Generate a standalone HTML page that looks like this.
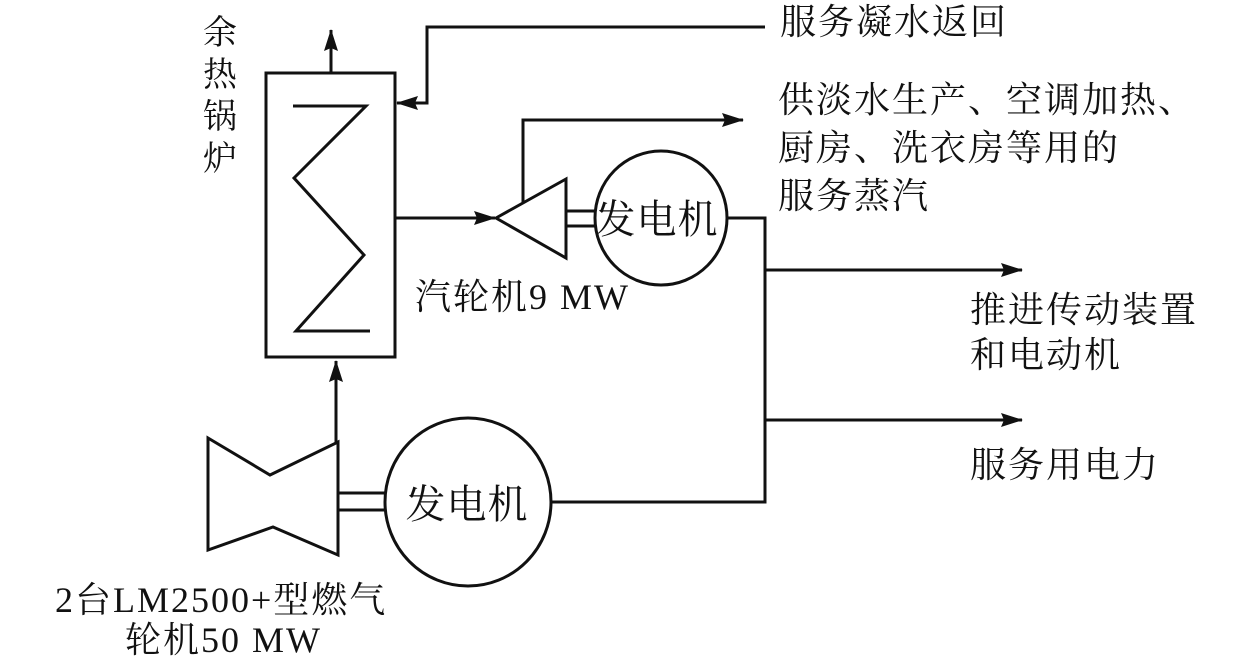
<!DOCTYPE html>
<html><head><meta charset="utf-8"><style>
html,body{margin:0;padding:0;background:#fff;}
svg{display:block}
text{font-family:"Liberation Serif","Noto Serif CJK SC","Noto Sans CJK SC",serif;font-size:36px;letter-spacing:2px;fill:#111}
</style></head><body>
<svg width="1260" height="663" viewBox="0 0 1260 663" xmlns="http://www.w3.org/2000/svg">
<defs>
<marker id="b" markerWidth="22" markerHeight="14" refX="21" refY="7" orient="auto" markerUnits="userSpaceOnUse" viewBox="0 0 22 14">
<path d="M0,0 L22,7 L0,14 L3,7 Z" fill="#111"/></marker>
</defs>
<g stroke="#111" stroke-width="3" fill="none">
<rect x="266" y="73" width="129" height="284"/>
<polyline points="293,106 366,106 294,178 364,255 296,331 370,331"/>
<line x1="331" y1="73" x2="331" y2="30" marker-end="url(#b)"/>
<polyline points="765,27 427,27 427,103 397,103" marker-end="url(#b)"/>
<line x1="395" y1="218" x2="495" y2="218" marker-end="url(#b)"/>
<polygon points="496,218 566,179 566,258"/>
<polyline points="523,203 523,120 743,120" marker-end="url(#b)"/>
<line x1="566" y1="211" x2="595" y2="211"/>
<line x1="566" y1="226" x2="595" y2="226"/>
<ellipse cx="661" cy="218" rx="66" ry="67"/>
<polyline points="727,218 765,218 765,502 551,502"/>
<line x1="765" y1="270" x2="1022" y2="270" marker-end="url(#b)"/>
<line x1="765" y1="420" x2="1022" y2="420" marker-end="url(#b)"/>
<polygon points="208,438 270,475 338,442 338,555 273,527 208,550"/>
<line x1="336" y1="442" x2="336" y2="361" marker-end="url(#b)"/>
<line x1="338" y1="493" x2="385" y2="493"/>
<line x1="338" y1="510" x2="385" y2="510"/>
<ellipse cx="468" cy="502" rx="83" ry="84"/>
</g>
<text x="203" y="44" style="font-size:34px">余</text>
<text x="203" y="86" style="font-size:34px">热</text>
<text x="203" y="128" style="font-size:34px">锅</text>
<text x="203" y="170" style="font-size:34px">炉</text>
<text x="780" y="34">服务凝水返回</text>
<text x="778" y="112">供淡水生产、空调加热、</text>
<text x="778" y="160">厨房、洗衣房等用的</text>
<text x="778" y="208">服务蒸汽</text>
<text x="657" y="233" text-anchor="middle" style="font-size:40px;letter-spacing:1px">发电机</text>
<text x="415" y="309">汽轮机9 MW</text>
<text x="970" y="322">推进传动装置</text>
<text x="970" y="367">和电动机</text>
<text x="970" y="477">服务用电力</text>
<text x="467" y="518" text-anchor="middle" style="font-size:40px;letter-spacing:1px">发电机</text>
<text x="55" y="612">2台LM2500+型燃气</text>
<text x="125" y="652">轮机50 MW</text>
</svg>
</body></html>
